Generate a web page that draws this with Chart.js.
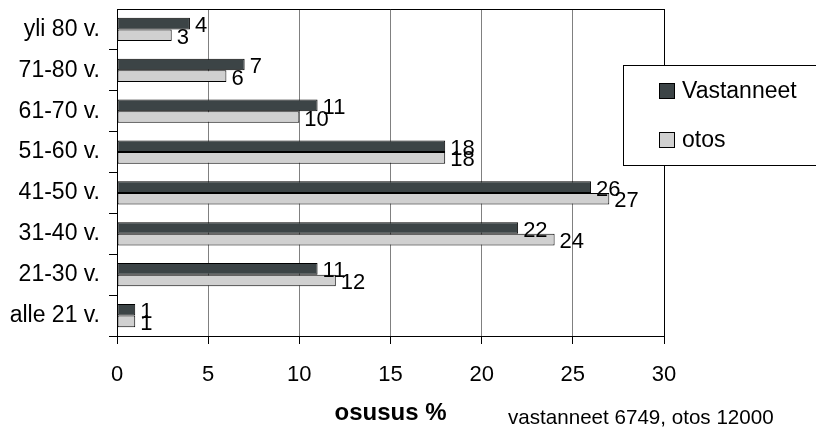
<!DOCTYPE html>
<html lang="fi">
<head>
<meta charset="utf-8">
<title>Ikäjakauma: vastanneet ja otos</title>
<script src="https://cdn.jsdelivr.net/npm/chart.js@4/dist/chart.umd.min.js"></script>
<style>
  html, body { margin: 0; padding: 0; background: #ffffff; }
  #wrap { width: 816px; height: 428px; }
</style>
</head>
<body>
<div id="wrap"><canvas id="chart" width="816" height="428"></canvas></div>
<script>
// Age groups, top to bottom
const categories = ['yli 80 v.', '71-80 v.', '61-70 v.', '51-60 v.', '41-50 v.', '31-40 v.', '21-30 v.', 'alle 21 v.'];
// Share of respondents and of the sample, %
const vastanneet = [4, 7, 11, 18, 26, 22, 11, 1];
const otos = [3, 6, 10, 18, 27, 24, 12, 1];
// Value axis ticks
const xTicks = [0, 5, 10, 15, 20, 25, 30];
const seriesNames = ['Vastanneet', 'otos'];
const axisTitle = 'osusus %';
const note = 'vastanneet 6749, otos 12000';

const FONT = "'Liberation Sans', Arial, sans-serif";
Chart.defaults.font.family = FONT;
Chart.defaults.color = '#000';

// Value printed just past the end of each bar
const valueLabels = {
  id: 'valueLabels',
  afterDatasetsDraw(chart) {
    const ctx = chart.ctx;
    ctx.save();
    ctx.font = '22px ' + FONT;
    ctx.fillStyle = '#000';
    ctx.textAlign = 'left';
    ctx.textBaseline = 'middle';
    chart.data.datasets.forEach((ds, i) => {
      chart.getDatasetMeta(i).data.forEach((bar, j) => {
        ctx.fillText(String(ds.data[j]), bar.x + 5, bar.y + 2.5);
      });
    });
    ctx.restore();
  }
};

// Top edge of the plot frame
const plotFrame = {
  id: 'plotFrame',
  afterDraw(chart) {
    const { ctx, chartArea: a } = chart;
    ctx.save();
    ctx.strokeStyle = '#000';
    ctx.lineWidth = 1;
    ctx.beginPath();
    ctx.moveTo(a.left, a.top + 0.5);
    ctx.lineTo(a.right + 0.5, a.top + 0.5);
    ctx.stroke();
    ctx.restore();
  }
};

// Boxed legend on the right and the sample-size note
const sideLegend = {
  id: 'sideLegend',
  afterDraw(chart) {
    const ctx = chart.ctx;
    ctx.save();
    ctx.fillStyle = '#fff';
    ctx.strokeStyle = '#000';
    ctx.lineWidth = 1;
    ctx.fillRect(623.5, 65.5, 200, 100);
    ctx.strokeRect(623.5, 65.5, 200, 100);
    ctx.font = '23px ' + FONT;
    ctx.textAlign = 'left';
    ctx.textBaseline = 'middle';
    chart.data.datasets.forEach((ds, i) => {
      const y = 83.5 + i * 49;
      ctx.fillStyle = ds.backgroundColor;
      ctx.fillRect(659.5, y, 15, 15);
      ctx.strokeStyle = '#000';
      ctx.strokeRect(659.5, y, 15, 15);
      ctx.fillStyle = '#000';
      ctx.fillText(ds.label, 682, y + 8.5);
    });
    ctx.font = '20.6px ' + FONT;
    ctx.textBaseline = 'alphabetic';
    ctx.fillText(note, 508, 424);
    ctx.restore();
  }
};

new Chart(document.getElementById('chart'), {
  type: 'bar',
  data: {
    labels: categories,
    datasets: [
      { label: seriesNames[0], data: vastanneet, backgroundColor: '#3c4446' },
      { label: seriesNames[1], data: otos, backgroundColor: '#d0d0d0' }
    ]
  },
  options: {
    indexAxis: 'y',
    responsive: false,
    devicePixelRatio: 1,
    animation: false,
    layout: { padding: { top: 9, right: 152, left: 0, bottom: 0 } },
    datasets: {
      bar: {
        categoryPercentage: 0.57,
        barPercentage: 1,
        borderColor: '#000',
        borderWidth: 1,
        borderSkipped: false
      }
    },
    plugins: {
      legend: { display: false },
      tooltip: { enabled: false }
    },
    scales: {
      x: {
        min: xTicks[0],
        max: xTicks[xTicks.length - 1],
        afterBuildTicks(scale) { scale.ticks = xTicks.map(v => ({ value: v })); },
        afterFit(scale) {
          scale.height = 92;
          scale.paddingLeft = 0;
          scale.paddingRight = 0;
        },
        ticks: { font: { size: 22 }, color: '#000', padding: 18 },
        grid: {
          color: ctx => (ctx.tick && ctx.tick.value === 30 ? '#000' : '#808080'),
          tickColor: '#000',
          tickLength: 8,
          lineWidth: 1
        },
        border: { color: '#000', width: 1 },
        title: {
          display: true,
          text: axisTitle,
          font: { size: 24, weight: 'bold' },
          color: '#000',
          padding: { top: 0, bottom: 0 }
        }
      },
      y: {
        afterFit(scale) {
          scale.width = 117;
          scale.paddingTop = 0;
          scale.paddingBottom = 0;
        },
        ticks: { font: { size: 23 }, color: '#000', padding: 9 },
        grid: {
          offset: true,
          drawOnChartArea: false,
          tickLength: 8,
          tickColor: ctx => (ctx.index === 0 ? 'rgba(0,0,0,0)' : '#000')
        },
        border: { color: '#000', width: 1 }
      }
    }
  },
  plugins: [valueLabels, plotFrame, sideLegend]
});
</script>
</body>
</html>
